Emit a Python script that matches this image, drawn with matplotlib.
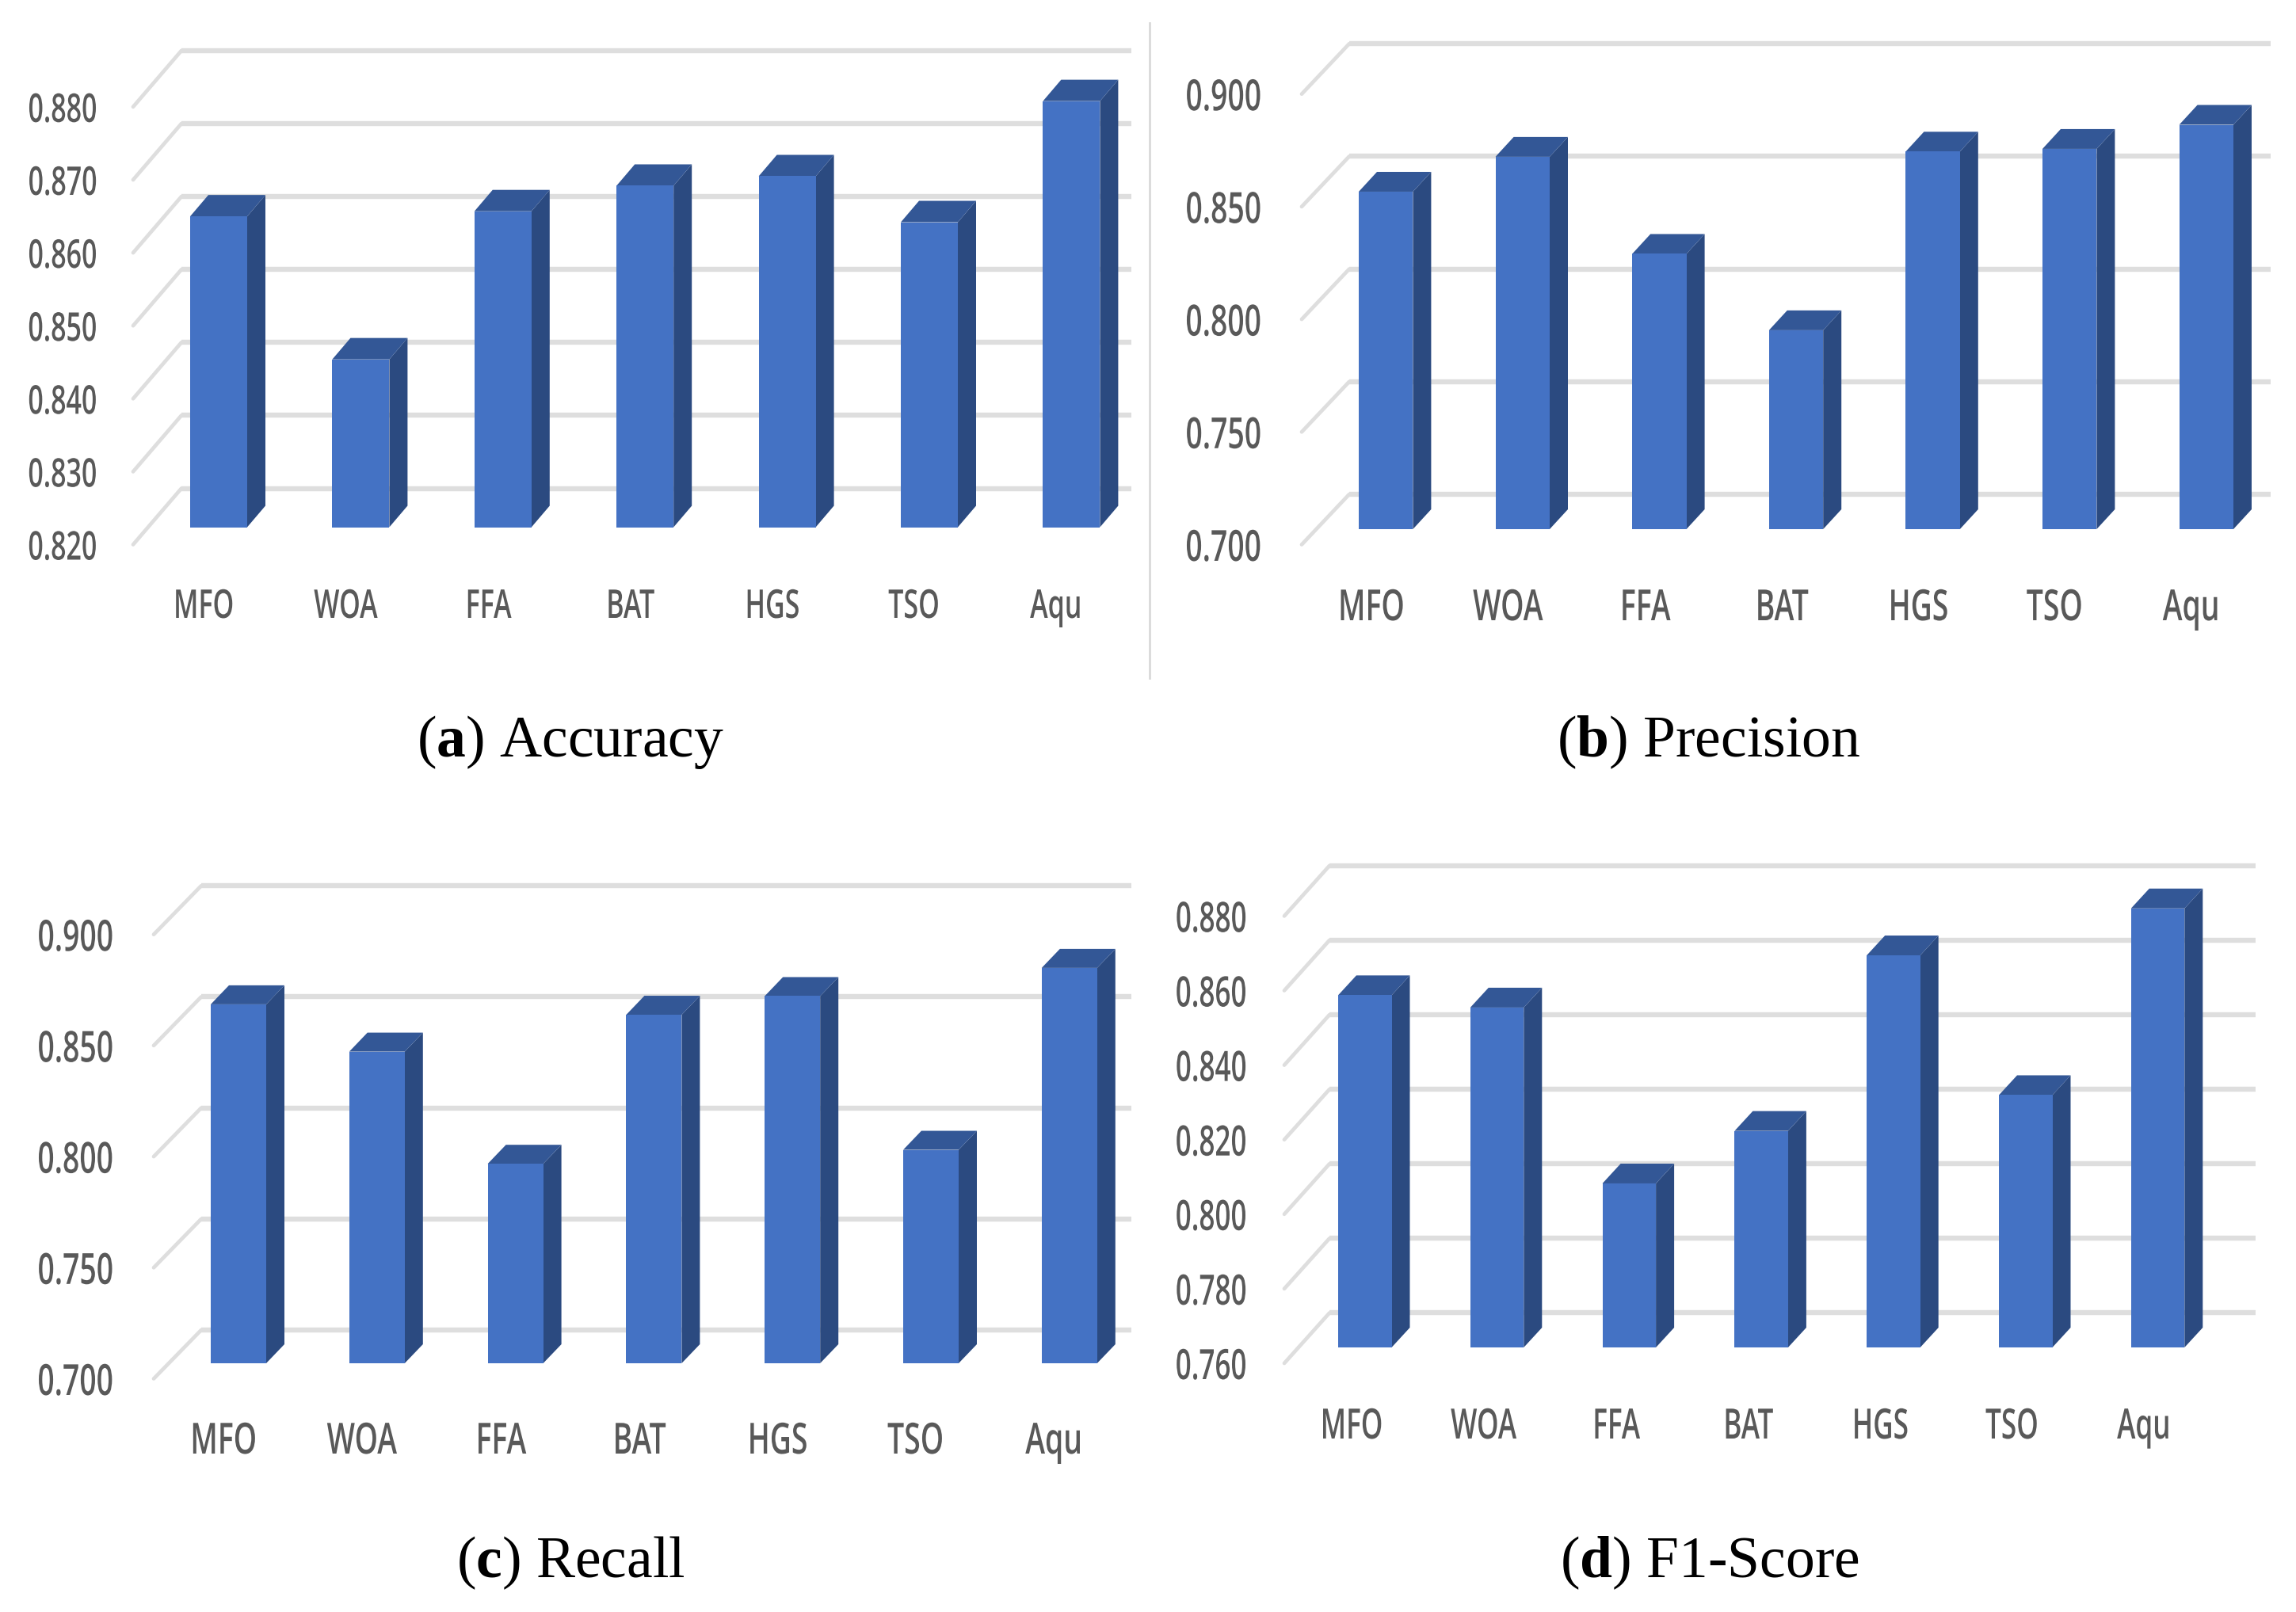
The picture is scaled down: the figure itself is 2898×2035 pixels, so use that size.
import matplotlib
matplotlib.use("Agg")
import matplotlib.pyplot as plt
import matplotlib.patheffects as pe
from matplotlib.transforms import Affine2D
import numpy as np

plt.rcParams['font.family'] = ['Open Sans', 'DejaVu Sans']
plt.rcParams['font.weight'] = 'semibold'
plt.rcParams['mathtext.fontset'] = 'custom'
plt.rcParams['mathtext.rm'] = 'Liberation Serif'
plt.rcParams['mathtext.bf'] = 'Liberation Serif:bold'

W, H = 2898, 2035

categories = ['MFO', 'WOA', 'FFA', 'BAT', 'HGS', 'TSO', 'Aqu']

accuracy = [0.8626, 0.8430, 0.8633, 0.8668, 0.8681, 0.8618, 0.8784]
precision = [0.8498, 0.8653, 0.8222, 0.7883, 0.8676, 0.8688, 0.8795]
recall = [0.8616, 0.8403, 0.7898, 0.8569, 0.8653, 0.7961, 0.8780]
f1_score = [0.8545, 0.8512, 0.8040, 0.8181, 0.8652, 0.8277, 0.8778]

ticks_a = [0.82, 0.83, 0.84, 0.85, 0.86, 0.87, 0.88]
ticks_b = [0.70, 0.75, 0.80, 0.85, 0.90]
ticks_c = [0.70, 0.75, 0.80, 0.85, 0.90]
ticks_d = [0.76, 0.78, 0.80, 0.82, 0.84, 0.86, 0.88]

FRONT = '#4472C4'
SIDE = '#2B4A80'
TOP = '#335796'
GRID = '#DEDEDE'
TEXT = '#595959'

# everything below in pixels of the final image, y measured from the top
layout_a = dict(x0=240, step=179.4, width=72, dx=23, dy=27, base=665.5, scale=9210,
                wall_up=49, wall_x=229, front_x=168, below=22, right=1428,
                label_right=123, baseline=780, shift=19, top=20, size=36, squeeze=0.68)
layout_b = dict(x0=1715, step=172.6, width=68.4, dx=23, dy=25, base=668, scale=2844,
                wall_up=44, wall_x=1703, front_x=1643, below=19.5, right=2866,
                label_right=1593, baseline=783, shift=18.5, top=20, size=39, squeeze=0.69)
layout_c = dict(x0=266, step=174.8, width=70, dx=23, dy=24, base=1721, scale=2804,
                wall_up=42, wall_x=254, front_x=194, below=19.5, right=1428,
                label_right=144, baseline=1835, shift=19, top=1090, size=39, squeeze=0.69)
layout_d = dict(x0=1689, step=166.8, width=67.5, dx=23, dy=25, base=1701, scale=4705,
                wall_up=43.5, wall_x=1678, front_x=1621, below=20, right=2847,
                label_right=1574, baseline=1816, shift=17, top=1070, size=38, squeeze=0.665)


class Squeeze(pe.AbstractPathEffect):
    # the source charts were stretched, so the labels look condensed
    def __init__(self, factor, anchor):
        super().__init__()
        self.factor = factor
        self.anchor = anchor

    def draw_path(self, renderer, gc, tpath, affine, rgbFace=None):
        ext = tpath.get_extents()
        a = ext.x1 if self.anchor == 'right' else (ext.x0 + ext.x1) / 2
        t = Affine2D().translate(-a, 0).scale(self.factor, 1).translate(a, 0)
        renderer.draw_path(gc, tpath, t + affine, rgbFace)


def draw_panel(fig, values, ticks, lay):
    left, right = lay['label_right'], lay['right']
    bottom, top = lay['baseline'], lay['top']
    ax = fig.add_axes([left / W, 1 - bottom / H, (right - left) / W, (bottom - top) / H])
    ax.patch.set_visible(False)
    for s in ax.spines.values():
        s.set_visible(False)

    # data <-> pixel relation is fixed by the limits
    c0 = lay['x0'] + lay['width'] / 2
    sx, sy = lay['step'], lay['scale']
    v0 = ticks[0]
    ax.set_xlim((left - c0) / sx, (right - c0) / sx)
    ax.set_ylim(v0 + (lay['base'] - bottom) / sy, v0 + (lay['base'] - top) / sy)

    back_x = (lay['wall_x'] - c0) / sx
    front_x = (lay['front_x'] - c0) / sx
    end_x = ax.get_xlim()[1]
    up, down = lay['wall_up'] / sy, lay['below'] / sy
    for t in ticks:
        ax.plot([back_x, end_x], [t + up, t + up], color=GRID, lw=4.6, solid_capstyle='butt', zorder=1)
        ax.plot([front_x, back_x], [t - down, t + up], color=GRID, lw=3.4, solid_capstyle='round', zorder=1)

    idx = np.arange(len(values))
    w = lay['width'] / sx
    dx, dy = lay['dx'] / sx, lay['dy'] / sy
    ax.bar(idx, np.array(values) - v0, bottom=v0, width=w, color=FRONT, zorder=3)
    for i, v in zip(idx, values):
        r = i + w / 2
        l = i - w / 2
        ax.fill([r, r + dx, r + dx, r], [v0, v0 + dy, v + dy, v], color=SIDE, lw=0, zorder=2)
        ax.fill([l, l + dx, r + dx, r], [v, v + dy, v + dy, v], color=TOP, lw=0, zorder=2)

    ax.set_yticks(np.array(ticks) - down, ['%.3f' % t for t in ticks])
    ax.set_xticks(idx - lay['shift'] / sx, categories)
    ax.tick_params(axis='both', length=0, pad=0, labelsize=lay['size'], labelcolor=TEXT)
    for lab in ax.get_xticklabels():
        lab.set_va('baseline')
        lab.set_path_effects([Squeeze(lay['squeeze'], 'center')])
    for lab in ax.get_yticklabels():
        lab.set_path_effects([Squeeze(lay['squeeze'], 'right')])
    return ax


fig = plt.figure(figsize=(W / 100, H / 100), dpi=100)

draw_panel(fig, accuracy, ticks_a, layout_a)
draw_panel(fig, precision, ticks_b, layout_b)
draw_panel(fig, recall, ticks_c, layout_c)
draw_panel(fig, f1_score, ticks_d, layout_d)

# thin separator left over from the pasted charts
fig.add_artist(plt.Line2D([1451 / W, 1451 / W], [1 - 29 / H, 1 - 856 / H], color='#D9D9D9', lw=2))

captions = [(r'($\mathbf{a}$) Accuracy', 720, 937),
            (r'($\mathbf{b}$) Precision', 2157, 937),
            (r'($\mathbf{c}$) Recall', 720, 1973),
            (r'($\mathbf{d}$) F1-Score', 2158, 1973)]
for txt, cx, cy in captions:
    fig.text(cx / W, 1 - cy / H, txt, ha='center', va='center', fontsize=53,
             family='Liberation Serif', weight='normal', color='black')

fig.savefig('out.png', dpi=100)
